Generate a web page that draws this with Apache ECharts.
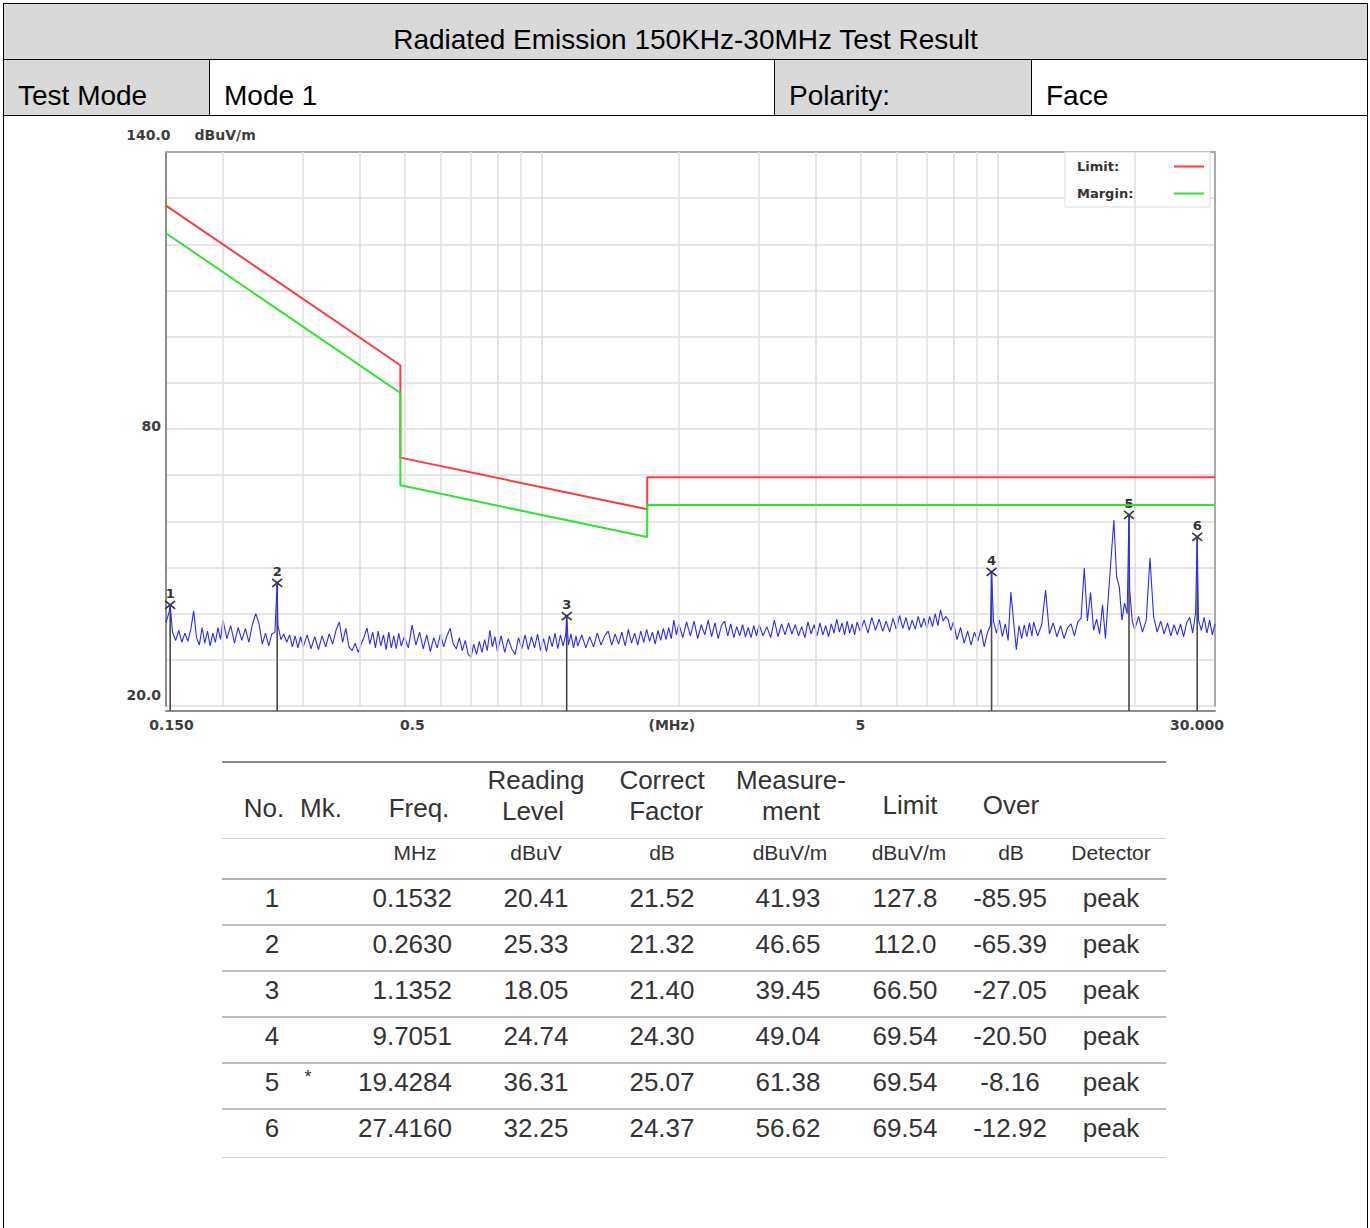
<!DOCTYPE html>
<html>
<head>
<meta charset="utf-8">
<title>Radiated Emission 150KHz-30MHz Test Result</title>
<script src="https://cdn.jsdelivr.net/npm/echarts@6/dist/echarts.min.js"></script>
<style>
body { margin: 0; background: #fff; }
#page { position: relative; width: 1370px; height: 1228px; overflow: hidden; font-family: "Liberation Sans", Arial, sans-serif; }
#head { position: absolute; left: 3px; top: 3px; border-collapse: collapse; table-layout: fixed; width: 1364px; }
#head td { border: 1px solid #000; font-size: 28px; line-height: 32px; vertical-align: bottom; padding: 0 0 3px 14px; color: #000; white-space: nowrap; }
#head td.g { background: #d9d9d9; }
#head td.c { text-align: center; padding-left: 0; }
#chart { position: absolute; left: 0; top: 115px; width: 1370px; height: 640px; }
.t { position: absolute; color: #333; white-space: nowrap; }
.rule { position: absolute; left: 222px; width: 944px; }
</style>
</head>
<body>
<div id="page">
  <table id="head">
    <colgroup><col style="width:206px"><col style="width:565px"><col style="width:257px"><col style="width:336px"></colgroup>
    <tr style="height:56px"><td colspan="4" class="g c">Radiated Emission 150KHz-30MHz Test Result</td></tr>
    <tr style="height:56px"><td class="g">Test Mode</td><td>Mode 1</td><td class="g">Polarity:</td><td>Face</td></tr>
    <tr style="height:1200px"><td colspan="4"></td></tr>
  </table>
  <div id="chart"></div>
  <div id="tbl"></div>
</div>
<script>
// limit / margin lines (MHz, dBuV/m)
var limitFreq = [0.15, 0.49, 0.49, 1.705, 1.705, 30];
var limitLevel = [128.4, 93.8, 73.8, 62.6, 69.54, 69.54];
var marginLevel = [122.4, 87.8, 67.8, 56.6, 63.54, 63.54];

// measured trace [MHz, dBuV/m]
var traceLow = [
  [0.150,38.0],[0.1525,40.5],[0.1532,41.93],[0.155,36.0],[0.1575,34.2],[0.160,36.4],[0.1625,33.8],[0.165,35.8],[0.1675,34.0],[0.170,36.6],
  [0.1725,40.6],[0.175,34.8],[0.1775,33.2],[0.180,37.0],[0.1825,33.6],[0.185,36.2],[0.1875,33.0],[0.190,35.8],[0.1925,33.8],[0.195,37.0],[0.1975,34.4],
  [0.200,38.6],[0.204,34.6],[0.208,37.4],[0.212,33.6],[0.216,37.0],[0.220,34.2],[0.224,36.8],[0.228,33.8],[0.232,37.6],[0.236,40.0],[0.240,37.8],
  [0.244,33.4],[0.248,35.8],[0.252,33.0],[0.256,35.6],[0.260,36.0],[0.263,46.65],[0.264,37.6],[0.268,34.4],[0.272,35.6],[0.276,33.8],[0.280,35.4],
  [0.284,32.8],[0.288,35.2],[0.292,32.6],[0.296,35.0],
  [0.300,32.8],[0.306,35.4],[0.312,32.4],[0.318,35.0],[0.324,32.2],[0.330,35.2],[0.336,32.8],[0.342,35.6],[0.348,33.4],[0.354,36.4],[0.360,38.2],
  [0.366,33.8],[0.372,36.8],[0.378,32.8],[0.384,32.0],[0.390,33.6],[0.396,31.6],[0.402,33.4],[0.408,35.0],[0.414,36.9],[0.420,33.4],[0.426,36.0],
  [0.432,32.6],[0.438,36.2],[0.444,33.0],[0.450,35.4],[0.456,32.2],[0.462,36.0],[0.468,32.6],[0.474,35.2],[0.480,32.4],[0.486,35.8],[0.492,33.0]
];
var traceMid = [
  [0.50,35.0],[0.51,32.6],[0.52,37.5],[0.53,33.2],[0.54,36.0],[0.55,32.4],[0.56,35.4],[0.57,31.8],[0.58,34.8],[0.59,32.6],[0.60,35.6],[0.61,32.8],
  [0.62,35.2],[0.63,36.8],[0.64,33.4],[0.65,32.4],[0.66,34.8],[0.67,32.0],[0.68,34.2],[0.69,31.2],[0.70,30.6],[0.71,33.4],[0.72,31.2],[0.73,34.0],
  [0.74,31.6],[0.75,34.4],[0.76,32.0],[0.77,36.4],[0.78,32.8],[0.79,35.0],
  [0.800,31.8],[0.815,35.2],[0.830,31.6],[0.845,34.6],[0.860,32.4],[0.875,31.2],[0.890,34.8],[0.905,32.4],[0.920,35.4],[0.935,32.2],[0.950,35.0],
  [0.965,32.6],[0.980,35.6],[0.995,32.0],[1.010,34.6],[1.025,31.8],[1.040,35.2],[1.055,32.8],[1.070,35.8],[1.085,32.4],[1.100,35.4],[1.115,33.0],
  [1.130,35.6],[1.1352,39.45],[1.145,33.2],[1.160,35.6],[1.175,32.6],[1.190,35.2],
  [1.200,33.0],[1.225,35.4],[1.250,32.6],[1.275,35.0],[1.300,32.8],[1.325,35.8],[1.350,33.2],[1.375,35.2],[1.400,36.2],[1.425,33.2],[1.450,35.6],
  [1.475,33.4],[1.500,36.0],[1.525,33.0],[1.550,36.6],[1.575,33.6],[1.600,35.8],[1.625,33.2],[1.650,36.2],[1.675,33.8],[1.700,36.6],[1.725,34.0],
  [1.750,36.0],[1.775,33.4],[1.800,36.4],[1.825,34.2],[1.850,36.8],[1.875,34.4],[1.900,37.0],[1.925,34.6],[1.950,38.6],[1.975,35.4],
  [2.00,37.8],[2.04,34.8],[2.08,38.2],[2.12,35.2],[2.16,38.4],[2.20,34.6],[2.24,37.6],[2.28,35.4],[2.32,38.6],[2.36,35.0],[2.40,38.0],[2.44,34.6],
  [2.48,37.4],[2.52,38.4],[2.56,35.2],[2.60,37.8],[2.64,34.8],[2.68,37.2],[2.72,35.2],[2.76,37.6],[2.80,35.0],[2.84,37.0],[2.88,34.8],[2.92,37.4],[2.96,35.2],
  [3.00,37.6],[3.06,35.2],[3.12,37.2],[3.18,34.8],[3.24,38.6],[3.30,35.0],[3.36,37.8],[3.42,35.4],[3.48,38.0],[3.54,35.6],[3.60,37.6],[3.66,35.2],
  [3.72,37.2],[3.78,34.8],[3.84,38.2],[3.90,35.6],[3.96,37.6],[4.02,35.2],[4.08,38.0],[4.14,35.4],[4.20,37.4],[4.26,35.0],[4.32,37.8],[4.38,35.8],
  [4.44,38.8],[4.50,36.0],[4.56,38.0],[4.62,35.4],[4.68,38.4],[4.74,35.8],[4.80,37.8],[4.86,35.4],[4.92,38.2]
];
var traceHigh = [
  [5.0,36.2],[5.1,38.6],[5.2,35.8],[5.3,39.2],[5.4,36.4],[5.5,38.8],[5.6,36.2],[5.7,38.4],[5.8,36.0],[5.9,39.0],[6.0,36.6],[6.1,39.6],[6.2,36.8],
  [6.3,39.2],[6.4,36.4],[6.5,38.6],[6.6,36.6],[6.7,39.4],[6.8,37.0],[6.9,39.0],[7.0,36.8],[7.1,39.4],[7.2,37.2],[7.3,40.0],[7.4,37.4],[7.5,40.8],
  [7.6,38.4],[7.7,39.4],[7.8,38.6],[7.9,36.4],
  [8.00,38.2],[8.15,34.4],[8.30,37.0],[8.45,33.6],[8.60,36.2],[8.75,33.2],[8.90,36.0],[9.05,34.0],[9.20,36.6],[9.35,32.8],[9.50,35.8],[9.65,37.5],
  [9.7051,49.04],[9.80,38.4],[9.95,35.8],[10.10,38.6],[10.25,35.0],[10.40,37.8],[10.55,34.2],[10.70,44.7],[10.85,38.2],[11.00,32.2],[11.15,37.4],
  [11.30,34.6],[11.45,37.6],[11.60,35.0],[11.75,38.0],[11.90,35.2],
  [12.00,38.2],[12.25,35.2],[12.50,37.6],[12.75,45.1],[13.00,35.6],[13.25,38.0],[13.50,35.0],[13.75,37.4],[14.00,34.6],[14.25,37.0],[14.50,37.8],
  [14.75,35.2],[15.00,38.2],[15.25,39.0],[15.50,49.9],[15.75,38.4],[16.00,44.6],[16.25,36.4],[16.50,38.8],[16.75,35.6],[17.00,41.9],[17.25,34.6],
  [17.50,43.5],[17.75,52.0],[18.00,60.3],[18.25,48.0],[18.50,45.8],[18.75,38.6],[19.00,42.3],[19.25,40.0],[19.4284,61.38],[19.50,45.0],[19.75,38.4],
  [20.0,36.6],[20.4,39.4],[20.8,36.0],[21.2,38.6],[21.6,52.1],[22.0,39.4],[22.4,36.0],[22.8,38.4],[23.2,35.6],[23.6,38.0],[24.0,35.2],[24.4,37.6],
  [24.8,35.4],[25.2,37.8],[25.6,35.0],[26.0,38.0],[26.4,39.2],[26.8,35.8],[27.2,40.2],[27.416,56.62],[27.6,38.6],[28.0,36.4],[28.4,39.2],[28.8,35.8],
  [29.2,38.6],[29.6,35.4],[30.0,37.8]
];

// axis ticks / grid
var gridFreq = [0.2, 0.3, 0.4, 0.5, 0.6, 0.7, 0.8, 0.9, 1, 2, 3, 4, 5, 6, 7, 8, 9, 10, 20];
var xTickValues = [0.15, 0.5, 1.93, 5, 30];
var xTickLabels = ['0.150', '0.5', '(MHz)', '5', '30.000'];
var yTickLabels = { 20: '20.0', 80: '80' };

// result table
var rowNo = ['1', '2', '3', '4', '5', '6'];
var rowMark = ['', '', '', '', '*', ''];
var rowFreq = ['0.1532', '0.2630', '1.1352', '9.7051', '19.4284', '27.4160'];
var rowReading = ['20.41', '25.33', '18.05', '24.74', '36.31', '32.25'];
var rowCorrect = ['21.52', '21.32', '21.40', '24.30', '25.07', '24.37'];
var rowMeasure = ['41.93', '46.65', '39.45', '49.04', '61.38', '56.62'];
var rowLimit = ['127.8', '112.0', '66.50', '69.54', '69.54', '69.54'];
var rowOver = ['-85.95', '-65.39', '-27.05', '-20.50', '-8.16', '-12.92'];
var rowDetector = ['peak', 'peak', 'peak', 'peak', 'peak', 'peak'];

var F = '"DejaVu Sans", sans-serif';
var LBL = '#3d3d3d';

var limitData = limitFreq.map(function (f, i) { return [f, limitLevel[i]]; });
var marginData = limitFreq.map(function (f, i) { return [f, marginLevel[i]]; });
var traceData = traceLow.concat(traceMid, traceHigh);
var markerData = rowFreq.map(function (f, i) { return [parseFloat(f), parseFloat(rowMeasure[i]), rowNo[i]]; });

var chart = echarts.init(document.getElementById('chart'), null, { renderer: 'svg' });

var option = {
  animation: false,
  grid: { left: 166, top: 37, width: 1049, height: 554 },
  legend: {
    data: ['Limit', 'Margin'],
    orient: 'vertical',
    right: 160,
    top: 37,
    align: 'right',
    icon: 'rect',
    itemWidth: 30,
    itemHeight: 2,
    itemGap: 14,
    padding: [8, 6, 7, 12],
    backgroundColor: '#fff',
    borderColor: '#dddddd',
    borderWidth: 1,
    formatter: function (n) { return '{t|' + n + ':}'; },
    textStyle: {
      fontFamily: F, fontWeight: 'bold', fontSize: 13, color: '#333',
      rich: { t: { width: 92, align: 'left', fontFamily: F, fontWeight: 'bold', fontSize: 13, color: '#333' } }
    }
  },
  xAxis: [{
    type: 'log', logBase: 10, min: 0.15, max: 30, offset: 5,
    axisLine: { show: true, lineStyle: { color: '#8c8c8c', width: 2 } },
    axisTick: { show: false }, axisLabel: { show: false }, splitLine: { show: false }
  }, {
    type: 'log', logBase: 10, min: 0.15, max: 30, position: 'top',
    axisLine: { show: true, lineStyle: { color: '#aaaaaa', width: 2 } },
    axisTick: { show: false }, axisLabel: { show: false }, splitLine: { show: false }
  }],
  yAxis: [{
    type: 'value', min: 20, max: 140, interval: 10,
    name: '{a|140.0}{b|dBuV/m}', nameLocation: 'end', nameGap: 10,
    nameTextStyle: {
      padding: [0, 0, 0, 50],
      rich: {
        a: { fontFamily: F, fontWeight: 'bold', fontSize: 14, color: LBL },
        b: { fontFamily: F, fontWeight: 'bold', fontSize: 14, color: LBL, padding: [0, 0, 0, 24] }
      }
    },
    axisLine: { show: true, lineStyle: { color: '#8c8c8c', width: 2 } },
    axisTick: { show: false },
    splitLine: { show: true, lineStyle: { color: '#dedede', width: 1.5 } },
    axisLabel: {
      margin: 5, fontFamily: F, fontWeight: 'bold', fontSize: 14, color: LBL,
      formatter: function (v) {
        if (v === 20) return '{lo|' + yTickLabels[20] + '}';
        if (v === 80) return '{mid|' + yTickLabels[80] + '}';
        return '';
      },
      rich: {
        lo: { fontFamily: F, fontWeight: 'bold', fontSize: 14, color: LBL, padding: [0, 0, 22, 0] },
        mid: { fontFamily: F, fontWeight: 'bold', fontSize: 14, color: LBL, padding: [0, 0, 6, 0] }
      }
    }
  }, {
    type: 'value', min: 20, max: 140, position: 'right',
    axisLine: { show: true, lineStyle: { color: '#aaaaaa', width: 2 } },
    axisTick: { show: false }, axisLabel: { show: false }, splitLine: { show: false }
  }],
  series: [{
    name: 'grid', type: 'line', data: [], silent: true, z: 1,
    markLine: {
      silent: true, symbol: 'none', label: { show: false },
      lineStyle: { color: '#dedede', width: 1.5, type: 'solid' },
      data: gridFreq.map(function (f) { return { xAxis: f }; })
    }
  }, {
    name: 'ticks', type: 'line', data: [], silent: true, z: 1,
    markLine: {
      silent: true, symbol: 'none',
      lineStyle: { color: 'rgba(0,0,0,0)', width: 0 },
      label: { show: true, position: 'start', distance: 12, fontFamily: F, fontWeight: 'bold', fontSize: 14, color: LBL },
      data: xTickValues.map(function (v, i) {
        var pad = [0, 0, 0, 0];
        if (i === 0) pad = [0, 0, 0, 11];
        if (i === 1) pad = [0, 0, 0, 16];
        if (i === 4) pad = [0, 36, 0, 0];
        return { xAxis: v, label: { show: true, formatter: xTickLabels[i], padding: pad, color: LBL } };
      })
    }
  }, {
    name: 'Markers', type: 'custom', z: 3,
    data: markerData,
    renderItem: function (params, api) {
      var top = api.coord([api.value(0), api.value(1)]);
      var base = api.coord([api.value(0), 20]);
      var c = '#333';
      return {
        type: 'group',
        children: [
          { type: 'line', shape: { x1: top[0], y1: top[1], x2: base[0], y2: base[1] + 5 }, style: { stroke: '#4a4a4a', lineWidth: 1.6 } },
          { type: 'line', shape: { x1: top[0] - 5, y1: top[1] - 4, x2: top[0] + 5, y2: top[1] + 4 }, style: { stroke: c, lineWidth: 1.6 }, z2: 10 },
          { type: 'line', shape: { x1: top[0] - 5, y1: top[1] + 4, x2: top[0] + 5, y2: top[1] - 4 }, style: { stroke: c, lineWidth: 1.6 }, z2: 10 },
          { type: 'text', z2: 10, style: { text: String(api.value(2)), x: top[0], y: top[1] - 5, align: 'center', verticalAlign: 'bottom', font: 'bold 13px ' + F, fill: c } }
        ]
      };
    }
  }, {
    name: 'Trace', type: 'line', data: traceData, showSymbol: false, z: 4,
    lineStyle: { color: '#2b2bff', width: 1.1 }
  }, {
    name: 'Limit', type: 'line', data: limitData, showSymbol: false, z: 5,
    lineStyle: { color: '#ff3b3b', width: 2 }, itemStyle: { color: '#ff3b3b' }
  }, {
    name: 'Margin', type: 'line', data: marginData, showSymbol: false, z: 5,
    lineStyle: { color: '#2ee42e', width: 2 }, itemStyle: { color: '#2ee42e' }
  }]
};
chart.setOption(option);

// result table below the chart
var tbl = document.getElementById('tbl');
function put(text, cx, cy, size, align) {
  var d = document.createElement('div');
  d.className = 't';
  d.textContent = text;
  d.style.fontSize = size + 'px';
  d.style.lineHeight = '30px';
  d.style.top = (cy - 15) + 'px';
  if (align === 'right') {
    d.style.left = (cx - 200) + 'px'; d.style.width = '200px'; d.style.textAlign = 'right';
  } else {
    d.style.left = (cx - 100) + 'px'; d.style.width = '200px'; d.style.textAlign = 'center';
  }
  tbl.appendChild(d);
}
function rule(y, h, color) {
  var d = document.createElement('div');
  d.className = 'rule';
  d.style.top = y + 'px'; d.style.height = h + 'px'; d.style.background = color;
  tbl.appendChild(d);
}
rule(761, 2, '#8a8a8a');
rule(838, 1, '#d0d0d0');
rule(878, 2, '#b0b0b0');
[924, 970, 1016, 1062, 1108].forEach(function (y) { rule(y, 2, '#bdbdbd'); });
rule(1157, 1, '#d0d0d0');

put('No.', 264, 808, 26); put('Mk.', 321, 808, 26); put('Freq.', 419, 808, 26);
put('Reading', 536, 780, 26); put('Level', 533, 811, 26);
put('Correct', 662, 780, 26); put('Factor', 666, 811, 26);
put('Measure-', 791, 780, 26); put('ment', 791, 811, 26);
put('Limit', 910, 805, 26); put('Over', 1011, 805, 26);
put('MHz', 415, 853, 21); put('dBuV', 536, 853, 21); put('dB', 662, 853, 21);
put('dBuV/m', 790, 853, 21); put('dBuV/m', 909, 853, 21); put('dB', 1011, 853, 21); put('Detector', 1111, 853, 21);

rowNo.forEach(function (n, i) {
  var cy = 898 + i * 46;
  put(n, 272, cy, 26);
  if (rowMark[i]) put(rowMark[i], 308, cy - 5, 18);
  put(rowFreq[i], 452, cy, 26, 'right');
  put(rowReading[i], 536, cy, 26);
  put(rowCorrect[i], 662, cy, 26);
  put(rowMeasure[i], 788, cy, 26);
  put(rowLimit[i], 905, cy, 26);
  put(rowOver[i], 1010, cy, 26);
  put(rowDetector[i], 1111, cy, 26);
});
</script>
</body>
</html>
